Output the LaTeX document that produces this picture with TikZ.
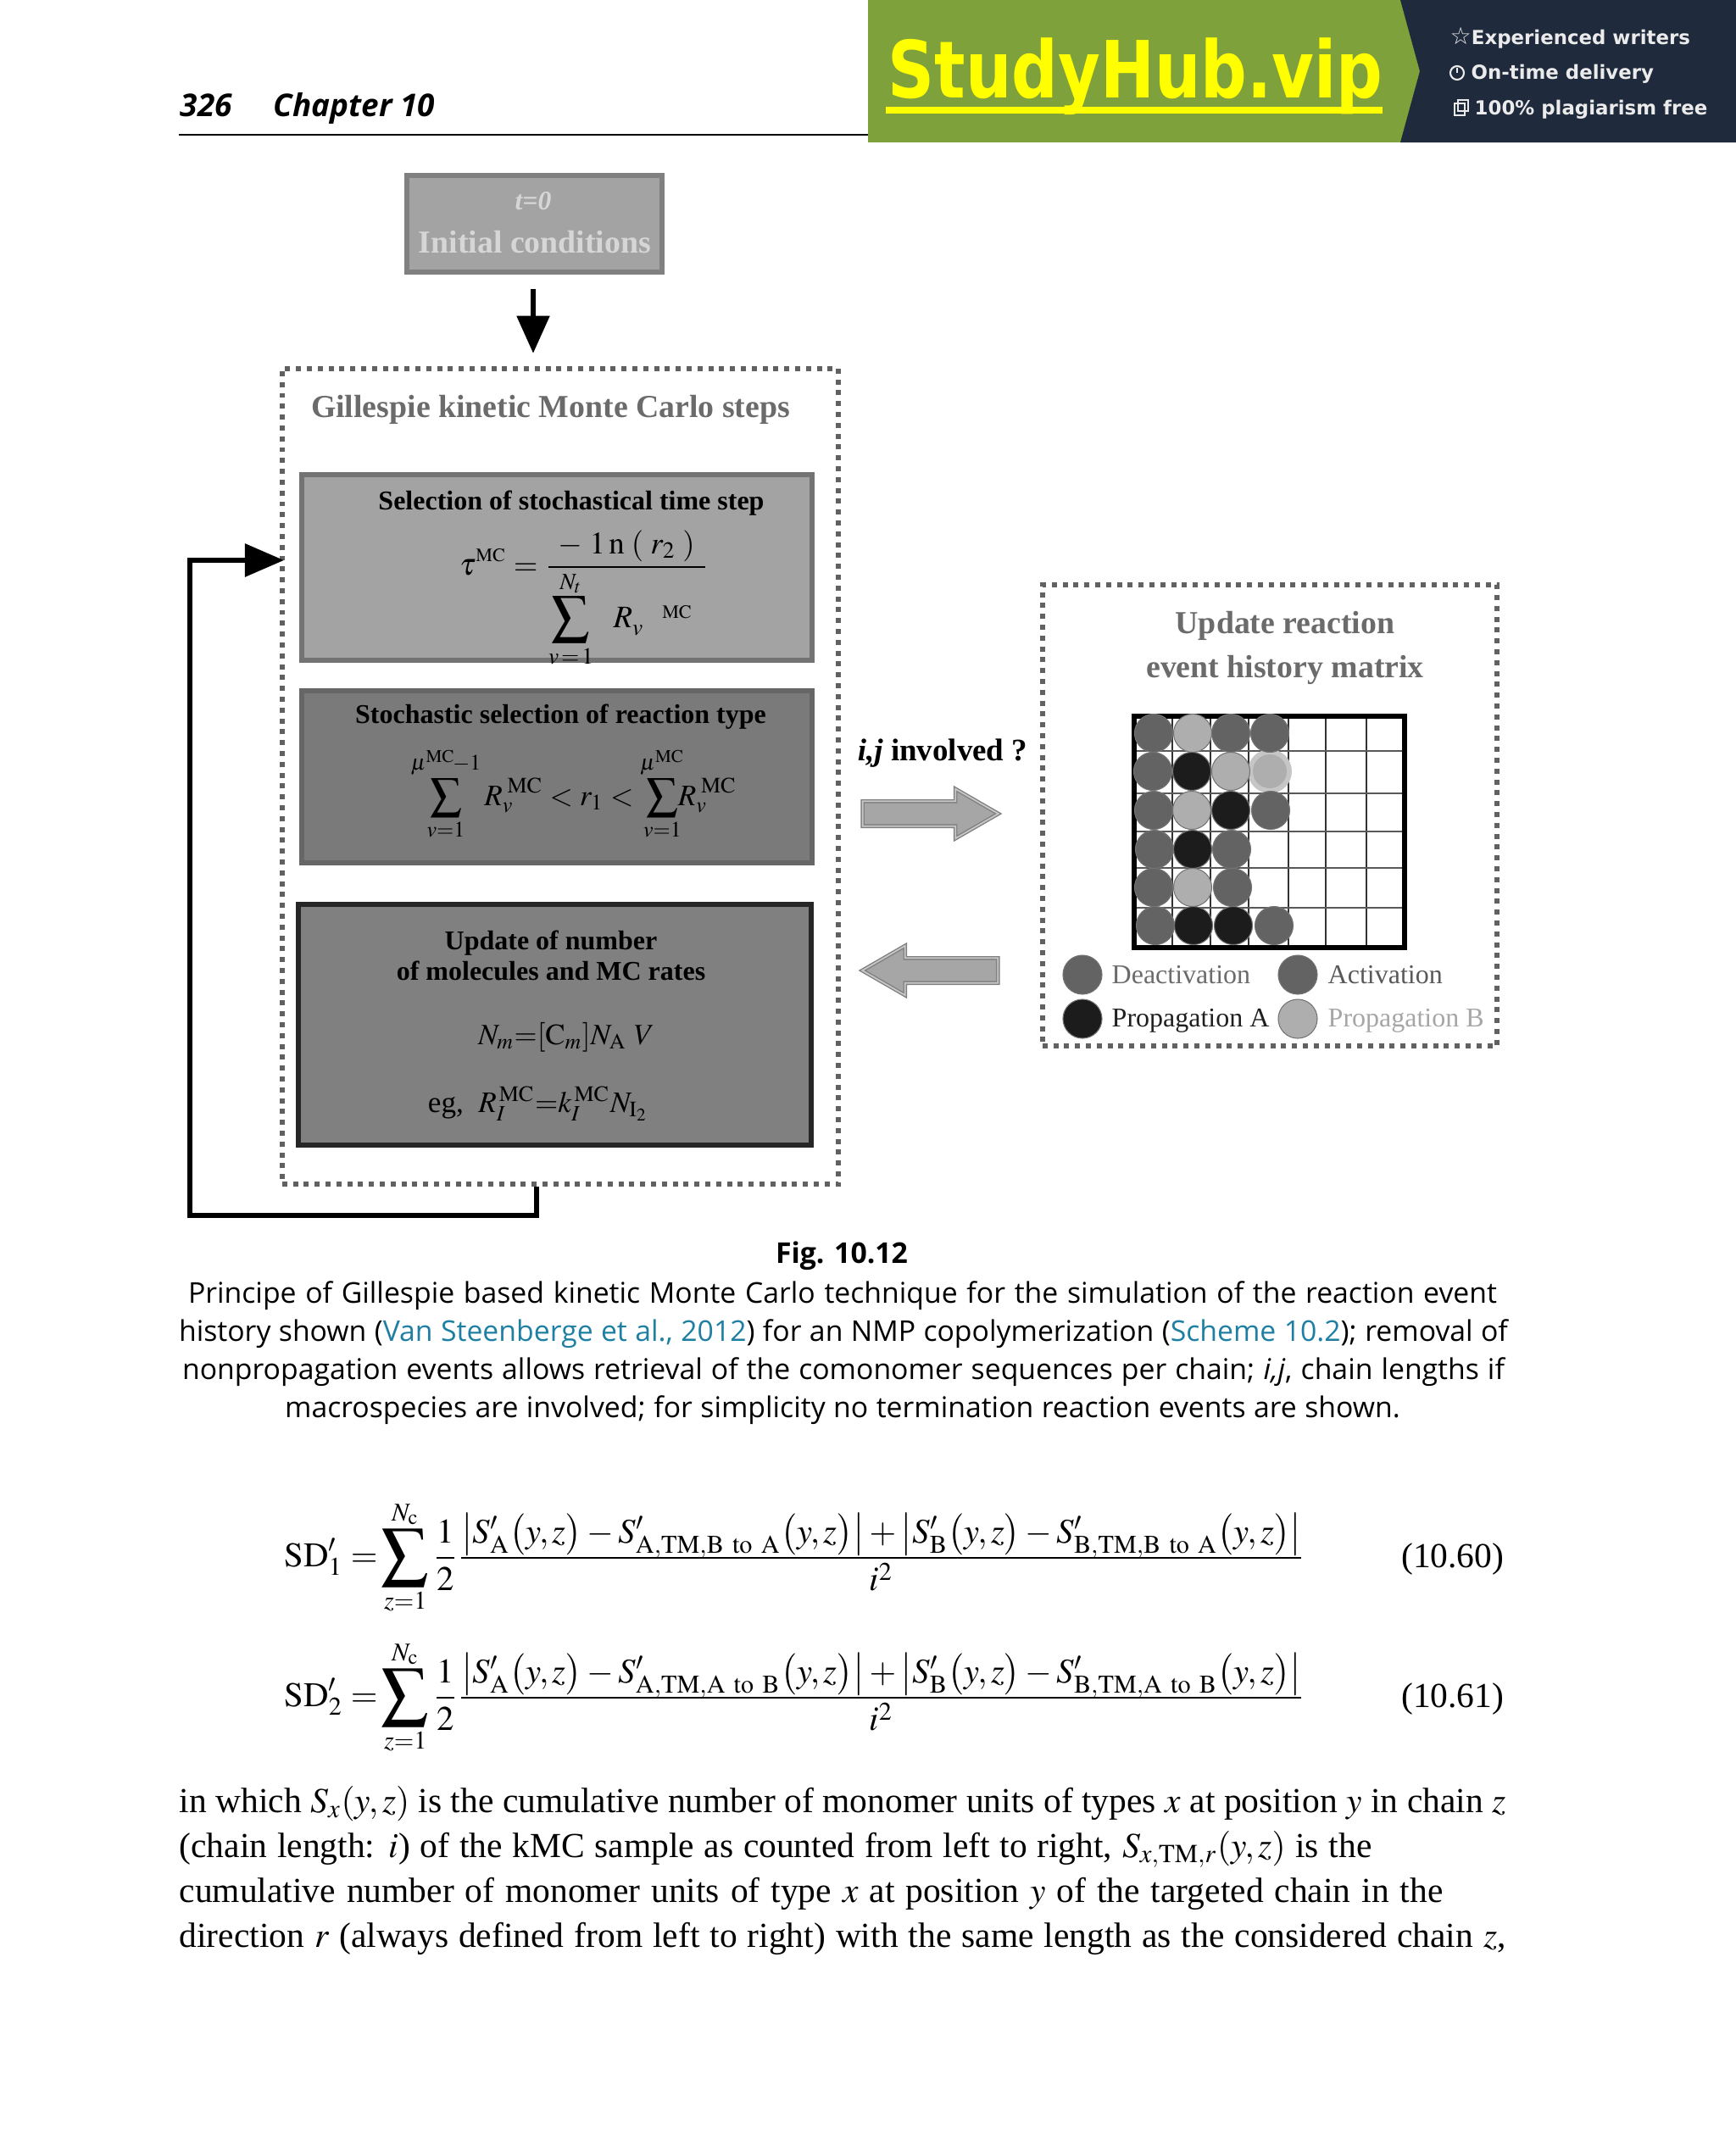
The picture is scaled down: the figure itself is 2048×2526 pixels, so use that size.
\documentclass[tikz,border=0pt]{standalone}
\usepackage{amsmath,amssymb}
\usepackage{mathptmx}
\usepackage[no-math]{fontspec}
\setmainfont{Liberation Serif}
\newfontfamily\capfont{Open Sans}
\newfontfamily\banfont{DejaVu Sans}
\usetikzlibrary{shapes.arrows,arrows.meta}

\definecolor{bannergreen}{HTML}{7FA13B}
\definecolor{bannerdark}{HTML}{1F2A3C}
\definecolor{bannertext}{HTML}{FFFF00}
\definecolor{linkblue}{HTML}{1F7FA3}
\definecolor{dgray}{HTML}{636363}
\definecolor{lgray}{HTML}{AEAEAE}
\definecolor{kblack}{HTML}{1C1C1C}

\newcommand{\bigsum}[1]{\mathop{\vcenter{\hbox{\scalebox{#1}{$\displaystyle\sum$}}}}\limits}
\newcommand{\fitline}[2]{\makebox[#1][s]{#2}}
\newcommand{\smallmc}{{\scriptscriptstyle\mathrm{MC}}}

\tikzset{
  stepbox/.style={draw=#1, line width=1.7pt, inner sep=0pt},
  dotbox/.style={draw=black!62, line width=1.7pt, dash pattern=on 1.7pt off 1.94pt, inner sep=0pt},
  heavyarrow/.style={line width=1.5pt, -{Triangle[length=0.44cm, width=0.38cm]}},
  blockarrow/.style={single arrow, single arrow tip angle=60, single arrow head extend=0.145cm,
    minimum height=1.6cm, inner sep=0.14cm, fill=black!35, draw=black!50, double=black!22,
    double distance=0.5pt, line width=0.4pt},
  evdot/.style={circle, minimum size=0.45cm, inner sep=0pt, draw=black!55, line width=0.3pt},
  figtitle/.style={anchor=base, font=\fontsize{10.75}{12}\selectfont\bfseries},
  boxtitle/.style={anchor=base, font=\fontsize{9.1}{10}\selectfont\bfseries},
  legendlab/.style={anchor=base west, inner sep=0pt, font=\fontsize{9.1}{10}\selectfont},
  capline/.style={anchor=base, inner sep=0pt, font=\capfont\fontsize{9.6}{12}\selectfont},
  bodyline/.style={anchor=base west, inner sep=0pt, font=\fontsize{11.8}{13}\selectfont},
  eqline/.style={anchor=base west, inner sep=0pt, font=\fontsize{11.6}{13}\selectfont},
  eqno/.style={anchor=base east, inner sep=0pt, font=\fontsize{11.8}{13}\selectfont},
  headline/.style={anchor=base west, inner sep=0pt, font=\capfont\fontsize{10.5}{12}\selectfont\bfseries\itshape},
  bantext/.style={anchor=base west, inner sep=0pt, text=white!92!black, font=\banfont\fontsize{6.5}{8}\selectfont\bfseries}
}

\begin{document}
\begin{tikzpicture}[x=0.01cm, y=-0.01cm]
  \useasboundingbox (0,0) rectangle (2048,2526);

  % Page head
  \node[headline] (pageno) at (212,137) {326};
  \node[headline] (chapter) at (322,137) {Chapter 10};
  \draw[line width=0.5pt] (211,159) -- (1024,159);

  % Banner
  \fill[bannergreen] (1024,0) rectangle (1680,168);
  \fill[bannerdark] (1652,0) -- (1675,84) -- (1652,168) -- (2048,168) -- (2048,0) -- cycle;
  \node[anchor=base west, inner sep=0pt, text=bannertext, font=\banfont\fontsize{26.5}{28}\selectfont\bfseries] (brand) at (1047,115) {\scalebox{0.82}[1]{StudyHub.vip}};
  \fill[bannertext] (1045,126) rectangle (1631,134);
  \node[bantext] (ban1) at (1710,52) {{\fontsize{8}{8}\selectfont ☆}Experienced writers};
  \draw[white!92!black, line width=0.6pt] (1719,86) circle [radius=8];
  \draw[white!92!black, line width=0.6pt] (1719,80) -- (1719,86);
  \node[bantext] (ban2) at (1735,93) {On-time delivery};
  \draw[white!92!black, line width=0.6pt] (1716,122) rectangle (1728,136);
  \draw[white!92!black, line width=0.6pt] (1720,118) rectangle (1732,131);
  \node[bantext] (ban3) at (1739,135) {100\% plagiarism free};

  % Initial conditions
  \node[stepbox=black!50, fill=black!36, minimum width=3.01cm, minimum height=1.14cm] (initbox) at (630.5,264) {};
  \node[anchor=base, text=black!16, font=\fontsize{9}{10}\selectfont\bfseries\itshape] (tzero) at (629,247) {t=0};
  \node[figtitle, text=black!16] (inittext) at (631,298) {Initial conditions};

  % Gillespie frame
  \node[dotbox, minimum width=6.56cm, minimum height=9.62cm] (gillbox) at (661,916) {};
  \node[figtitle, text=black!58] (gilltext) at (649.5,492) {Gillespie kinetic Monte Carlo steps};
  \draw[heavyarrow, shorten <=0.17cm, shorten >=0.15cm] (initbox.south -| tzero) -- (tzero |- gillbox.north);

  % Time step
  \node[stepbox=black!55, fill=black!36, minimum width=6.02cm, minimum height=2.19cm] (timebox) at (657,669.5) {};
  \node[boxtitle] (timetext) at (674,601) {Selection of stochastical time step};
  \node[anchor=base, font=\fontsize{10.5}{13}\selectfont] (timeform) at (689,678)
    {$\displaystyle \tau^{\smallmc} = \frac{-\;\mathrm{1\,n}\;(\;r_2\;)}{\bigsum{1.2}_{v\,=\,1}^{N_t}\hspace{5.5pt}R_v^{\hspace{10pt}\smallmc}\hspace{4pt}}$};

  % Reaction type
  \node[stepbox=black!60, fill=black!52, minimum width=6.02cm, minimum height=2.03cm] (typebox) at (657,916.5) {};
  \node[boxtitle] (typetext) at (661.5,853) {Stochastic selection of reaction type};
  \node[anchor=base, font=\fontsize{10}{12}\selectfont] (typeform) at (677,950)
    {$\displaystyle \bigsum{1.05}_{v=1}^{\mu^{\mathrm{MC}}\!-1} R_v^{\;\mathrm{MC}} < r_1 < \bigsum{1.05}_{v=1}^{\mu^{\mathrm{MC}}}\!\!\! R_v^{\;\mathrm{MC}}$};

  % Update of rates
  \node[stepbox=black!85, fill=black!50, minimum width=6.05cm, minimum height=2.84cm] (ratebox) at (654.5,1209) {};
  \node[boxtitle] (ratetext1) at (650,1120) {Update of number};
  \node[boxtitle] (ratetext2) at (650,1156) {of molecules and MC rates};
  \node[anchor=base, font=\fontsize{9.9}{12}\selectfont] (rateform1) at (668,1232) {$N_m{=}[\mathrm{C}_m]N_{\mathrm{A}}\ V$};
  \node[anchor=base, font=\fontsize{10}{12}\selectfont] (rateform2) at (635,1312) {eg,\ \ $R_I^{\,\mathrm{MC}}{=}k_I^{\,\mathrm{MC}}N_{\mathrm{I}_2}$};

  % Feedback loop
  \coordinate (loopstart) at (633,1400);
  \coordinate (loopend) at (335,661);
  \draw[line width=1.7pt, -{Triangle[length=0.46cm, width=0.38cm]}] (loopstart) -- (633,1434) -- (224,1434) -- (224,661) -- (loopend);

  % Exchange between both frames
  \node[anchor=base, font=\fontsize{10.5}{12}\selectfont\bfseries] (involved) at (1112,897) {\textit{i,j} involved ?};
  \node[blockarrow] (arrowout) at (1085,960) {};
  \node[blockarrow, shape border rotate=180] (arrowback) at (1110,1145) {};

  % History frame
  \node[dotbox, minimum width=5.36cm, minimum height=5.44cm] (histbox) at (1498,962) {};
  \node[figtitle, text=black!58] (histtext1) at (1516,747) {Update reaction};
  \node[figtitle, text=black!58] (histtext2) at (1516,799) {event history matrix};

  % History matrix
  \foreach \vx in {1383,1428,1473,1520,1564,1612}
    \draw[black!80, line width=0.4pt] (\vx,846) -- (\vx,1117);
  \foreach \hy in {886,936,981,1024,1071}
    \draw[black!65, line width=0.5pt] (1339,\hy) -- (1656,\hy);
  \draw[black, line width=1.5pt] (1338,845) rectangle (1657,1118);

  \node[evdot, fill=lgray!70!white, minimum size=0.52cm, draw=none] (halo) at (1498,910) {};
  \foreach \cx/\cy/\kind/\i in {
    1361/865/dgray/1, 1407/865/lgray/2, 1452/865/dgray/3, 1498/865/dgray/4,
    1360/910/dgray/5, 1406/910/kblack/6, 1452/910/lgray/7,
    1361/956/dgray/8, 1406/956/lgray/9, 1452/956/kblack/10, 1499/956/dgray/11,
    1362/1002/dgray/12, 1407/1002/kblack/13, 1453/1002/dgray/14,
    1361/1047/dgray/15, 1407/1047/lgray/16, 1454/1047/dgray/17,
    1363/1092/dgray/18, 1408/1092/kblack/19, 1455/1092/kblack/20, 1503/1092/dgray/21}
    \node[evdot, fill=\kind] (ev\i) at (\cx,\cy) {};
  \node[evdot, fill=lgray, minimum size=0.4cm, draw=none] (haloin) at (1498,910) {};

  % Legend
  \node[evdot, fill=dgray, minimum size=0.46cm] (legdeact) at (1277,1150) {};
  \node[evdot, fill=dgray, minimum size=0.46cm] (legact) at (1531,1150) {};
  \node[evdot, fill=kblack, minimum size=0.46cm] (legpropa) at (1277,1202) {};
  \node[evdot, fill=lgray, minimum size=0.46cm] (legpropb) at (1531,1202) {};
  \node[legendlab, text=black!58] (labdeact) at (1311,1160) {Deactivation};
  \node[legendlab, text=black!65] (labact) at (1566,1160) {Activation};
  \node[legendlab, text=black!88] (labpropa) at (1311,1211) {Propagation A};
  \node[legendlab, text=black!35] (labpropb) at (1566,1211) {Propagation B};

  % Caption
  \node[capline, font=\capfont\fontsize{9.6}{12}\selectfont\bfseries] (figno) at (993,1490) {Fig. 10.12};
  \node[capline] (cap1) at (994,1537) {\fitline{15.43cm}{Principe of Gillespie based kinetic Monte Carlo technique for the simulation of the reaction event}};
  \node[capline] (cap2) at (995,1582) {\fitline{15.67cm}{history shown ({\color{linkblue}Van Steenberge et al., 2012}) for an NMP copolymerization ({\color{linkblue}Scheme 10.2}); removal of}};
  \node[capline] (cap3) at (995,1627) {\fitline{15.59cm}{nonpropagation events allows retrieval of the comonomer sequences per chain; \textit{i,j}, chain lengths if}};
  \node[capline] (cap4) at (994,1672) {\fitline{13.15cm}{macrospecies are involved; for simplicity no termination reaction events are shown.}};

  % Equations
  \node[eqline] (eqone) at (335,1848)
    {$\displaystyle \mathrm{SD}'_1=\!\bigsum{1.35}_{z=1}^{N_{\mathrm{c}}}\frac{1}{2}\frac{\smash[b]{\bigl|S'_{\mathrm{A}}\bigl(y,z\bigr)-S'_{\mathrm{A,TM,B\ to\ A}}\bigl(y,z\bigr)\bigr|+\bigl|S'_{\mathrm{B}}\bigl(y,z\bigr)-S'_{\mathrm{B,TM,B\ to\ A}}\bigl(y,z\bigr)\bigr|}}{i^2}$};
  \node[eqno] (eqnoone) at (1775,1849) {(10.60)};
  \node[eqline] (eqtwo) at (335,2013)
    {$\displaystyle \mathrm{SD}'_2=\!\bigsum{1.35}_{z=1}^{N_{\mathrm{c}}}\frac{1}{2}\frac{\smash[b]{\bigl|S'_{\mathrm{A}}\bigl(y,z\bigr)-S'_{\mathrm{A,TM,A\ to\ B}}\bigl(y,z\bigr)\bigr|+\bigl|S'_{\mathrm{B}}\bigl(y,z\bigr)-S'_{\mathrm{B,TM,A\ to\ B}}\bigl(y,z\bigr)\bigr|}}{i^2}$};
  \node[eqno] (eqnotwo) at (1775,2014) {(10.61)};

  % Running text
  \node[bodyline] (body1) at (211,2138) {\fitline{15.64cm}{in which $S_x(y,z)$ is the cumulative number of monomer units of types $x$ at position $y$ in chain $z$}};
  \node[bodyline] (body2) at (211,2191) {\fitline{14.06cm}{(chain length: $i$) of the kMC sample as counted from left to right, $S_{x,\mathrm{TM},r}(y,z)$ is the}};
  \node[bodyline] (body3) at (211,2244) {\fitline{14.90cm}{cumulative number of monomer units of type $x$ at position $y$ of the targeted chain in the}};
  \node[bodyline] (body4) at (211,2297) {\fitline{15.64cm}{direction $r$ (always defined from left to right) with the same length as the considered chain $z$,}};
\end{tikzpicture}
\end{document}
